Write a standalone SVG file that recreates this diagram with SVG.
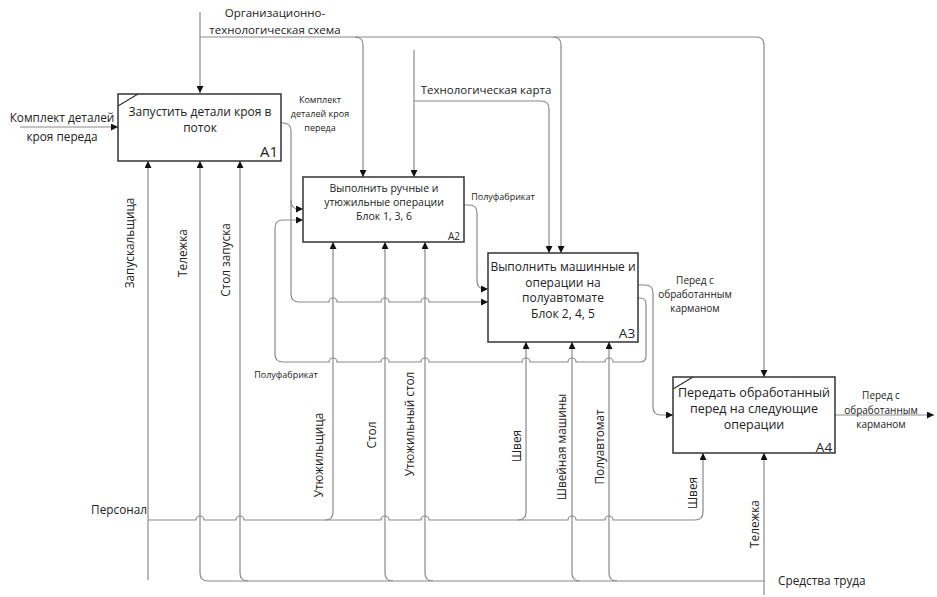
<svg xmlns="http://www.w3.org/2000/svg" width="937" height="597" viewBox="0 0 937 597">
<defs>
<marker id="ar" viewBox="0 0 8 8" refX="8" refY="4" markerWidth="7" markerHeight="7" markerUnits="userSpaceOnUse" orient="auto">
<path d="M0,0 L8,4 L0,8 Z" fill="#111"/>
</marker>
</defs>
<style>
.c{fill:none;stroke:#8a8a8a;stroke-width:1.2}
.a{marker-end:url(#ar)}
.box{fill:#fff;stroke:#333;stroke-width:1.5}
.t{font-family:"Open Sans","Noto Sans","Liberation Sans",sans-serif;fill:#222;text-anchor:middle}
.b{font-size:12px}
.s{font-size:9px}
.m{font-size:11.8px}
.l{font-size:11.5px}
</style>
<rect width="937" height="597" fill="#fff"/>
<g id="connectors">
<path class="c a" d="M200,12 V93"/>
<path class="c a" d="M200,37 H756 Q764,37 764,45 V377"/>
<path class="c a" d="M355,37 Q363,37 363,45 V177"/>
<path class="c a" d="M553,37 Q561,37 561,45 V253"/>
<path class="c a" d="M414,50 V177"/>
<path class="c a" d="M414,101 H541 Q549,101 549,109 V253"/>
<path class="c a" d="M20,127 H118"/>
<path class="c a" d="M281,123 H283 Q291,123 291,131 V201 Q291,209 299,209 H303"/>
<path class="c a" d="M291,200 V294 Q291,302 299,302 H329 a4,4 0 0 1 8,0 H381 a4,4 0 0 1 8,0 H421 a4,4 0 0 1 8,0 H488"/>
<path class="c a" d="M464,205 H469 Q477,205 477,213 V281 Q477,289 485,289 H488"/>
<path class="c a" d="M638,285 H645 Q653,285 653,293 V407 Q653,415 661,415 H673"/>
<path class="c a" d="M638,298 H640 Q646,298 646,304 V356 Q646,362 640,362 H613 a4,4 0 0 0 -8,0 H576 a4,4 0 0 0 -8,0 H530 a4,4 0 0 0 -8,0 H429 a4,4 0 0 0 -8,0 H389 a4,4 0 0 0 -8,0 H337 a4,4 0 0 0 -8,0 H283 Q275,362 275,354 V228 Q275,220 283,220 H303"/>
<path class="c a" d="M835,415 H934"/>
<path class="c a" d="M148,580 V161"/>
<path class="c a" d="M148,520 H196 a4,4 0 0 1 8,0 H236 a4,4 0 0 1 8,0 H381 a4,4 0 0 1 8,0 H421 a4,4 0 0 1 8,0 H568 a4,4 0 0 1 8,0 H605 a4,4 0 0 1 8,0 H695 Q703,520 703,512 V453"/>
<path class="c a" d="M325,520 Q333,520 333,512 V242"/>
<path class="c a" d="M518,520 Q526,520 526,512 V342"/>
<path class="c a" d="M764,581 H208 Q200,581 200,573 V161"/>
<path class="c a" d="M764,595 V453"/>
<path class="c a" d="M248,581 Q240,581 240,573 V161"/>
<path class="c a" d="M393,581 Q385,581 385,573 V242"/>
<path class="c a" d="M433,581 Q425,581 425,573 V242"/>
<path class="c a" d="M580,581 Q572,581 572,573 V342"/>
<path class="c a" d="M617,581 Q609,581 609,573 V342"/>
</g>
<g id="A1">
<rect class="box" x="118" y="94" width="163" height="67"/>
<line x1="118" y1="106" x2="138" y2="94" stroke="#333" stroke-width="1.2"/>
<text class="t b" x="200" y="116">Запустить детали кроя в</text>
<text class="t b" x="200" y="132">поток</text>
<text class="t" x="269" y="157" style="font-size:15px">A1</text>
</g>
<g id="A2">
<rect class="box" x="303" y="177" width="161" height="65"/>
<text class="t" x="384" y="192" style="font-size:10.5px">Выполнить ручные и</text>
<text class="t" x="384" y="206" style="font-size:10.5px">утюжильные операции</text>
<text class="t" x="384" y="220" style="font-size:10.5px">Блок 1, 3, 6</text>
<text class="t" x="454" y="240" style="font-size:10px">A2</text>
</g>
<g id="A3">
<rect class="box" x="488" y="253" width="150" height="89"/>
<text class="t b" x="563" y="271">Выполнить машинные и</text>
<text class="t b" x="563" y="286.5">операции на</text>
<text class="t b" x="563" y="302">полуавтомате</text>
<text class="t b" x="563" y="317.5">Блок 2, 4, 5</text>
<text class="t" x="627" y="338" style="font-size:13.5px">A3</text>
</g>
<g id="A4">
<rect class="box" x="673" y="377" width="162" height="76"/>
<line x1="673" y1="389" x2="693" y2="377" stroke="#333" stroke-width="1.2"/>
<text class="t" x="754" y="397" style="font-size:12.5px">Передать обработанный</text>
<text class="t" x="754" y="413" style="font-size:12.5px">перед на следующие</text>
<text class="t" x="754" y="429" style="font-size:12.5px">операции</text>
<text class="t" x="824" y="452" style="font-size:13.5px">A4</text>
</g>
<g id="labels">
<text class="t l" x="275" y="17">Организационно-</text>
<text class="t l" x="275" y="34">технологическая схема</text>
<text class="t l" x="486" y="94">Технологическая карта</text>
<text class="t m" x="62" y="122">Комплект деталей</text>
<text class="t m" x="62" y="141">кроя переда</text>
<text class="t s" x="320" y="103">Комплект</text>
<text class="t s" x="320" y="117">деталей кроя</text>
<text class="t s" x="320" y="131">переда</text>
<text class="t s" x="503" y="200">Полуфабрикат</text>
<text class="t s" x="286" y="378">Полуфабрикат</text>
<text class="t" x="695" y="284" style="font-size:10px">Перед с</text>
<text class="t" x="695" y="298" style="font-size:10px">обработанным</text>
<text class="t" x="695" y="312" style="font-size:10px">карманом</text>
<text class="t" x="881" y="399" style="font-size:10px">Перед с</text>
<text class="t" x="881" y="414" style="font-size:10px">обработанным</text>
<text class="t" x="881" y="428" style="font-size:10px">карманом</text>
<text class="t m" x="147" y="514" style="text-anchor:end">Персонал</text>
<text class="t m" x="778" y="585" style="text-anchor:start">Средства труда</text>
<text class="t m" transform="translate(134,243) rotate(-90)">Запускальщица</text>
<text class="t m" transform="translate(187,253) rotate(-90)">Тележка</text>
<text class="t m" transform="translate(230,260) rotate(-90)">Стол запуска</text>
<text class="t m" transform="translate(323,455) rotate(-90)">Утюжильщица</text>
<text class="t m" transform="translate(376,435) rotate(-90)">Стол</text>
<text class="t m" transform="translate(414,424) rotate(-90)">Утюжильный стол</text>
<text class="t m" transform="translate(521,446) rotate(-90)">Швея</text>
<text class="t m" transform="translate(566,447) rotate(-90)">Швейная машины</text>
<text class="t m" transform="translate(604,447) rotate(-90)">Полуавтомат</text>
<text class="t m" transform="translate(697,493) rotate(-90)">Швея</text>
<text class="t m" transform="translate(759,524) rotate(-90)">Тележка</text>
</g>
</svg>
